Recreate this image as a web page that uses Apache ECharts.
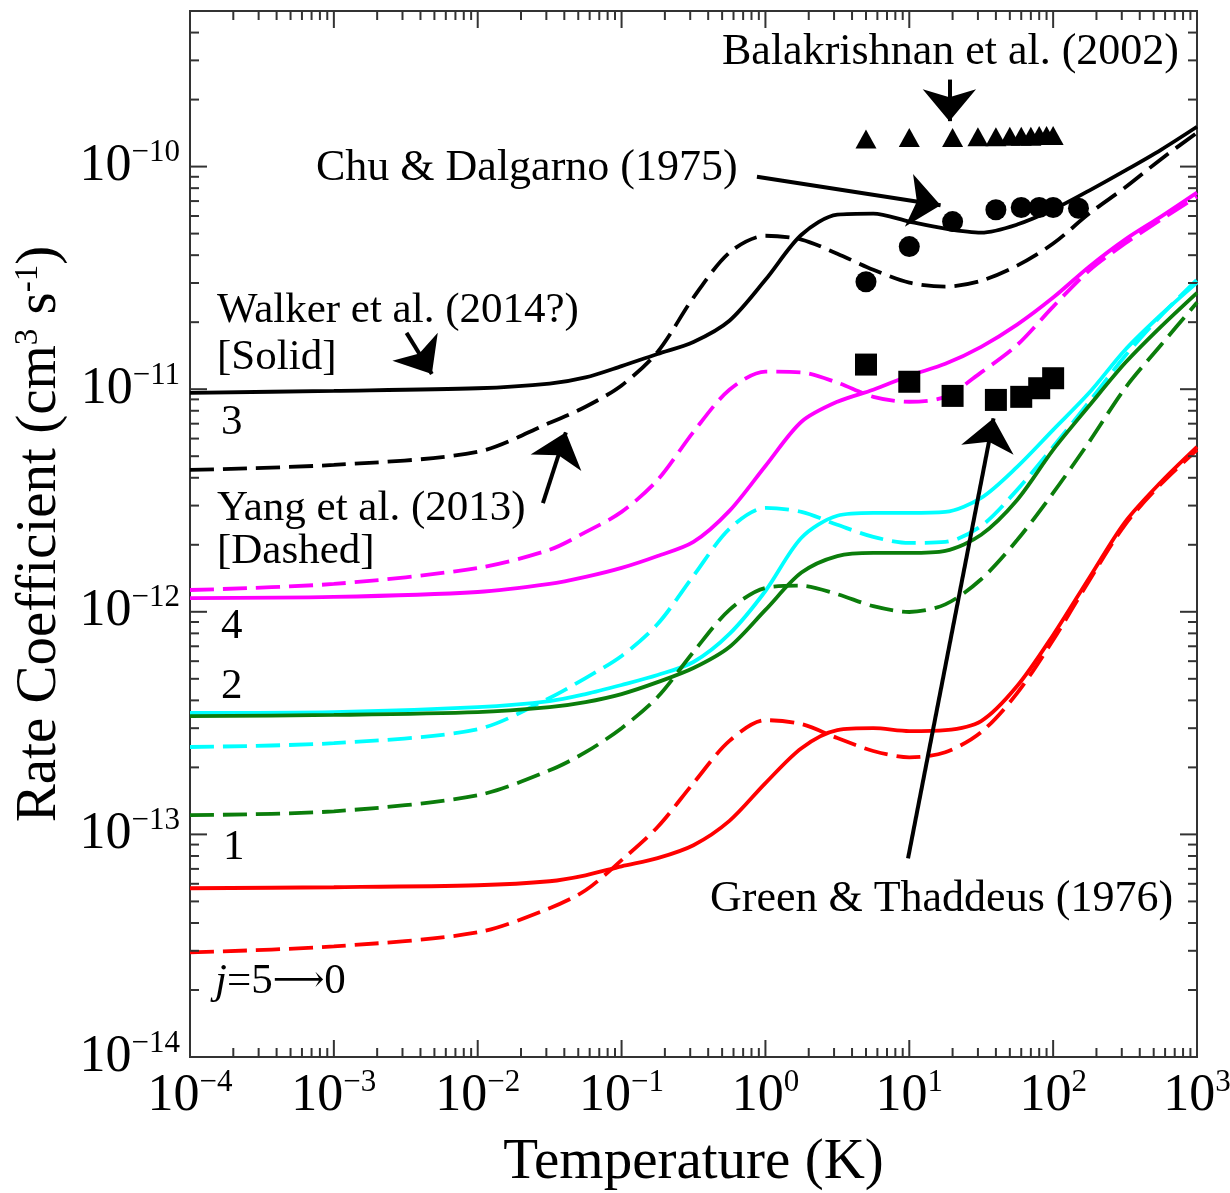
<!DOCTYPE html>
<html><head><meta charset="utf-8">
<script src="https://cdn.jsdelivr.net/npm/echarts@6/dist/echarts.min.js"></script>
<style>html,body{margin:0;padding:0;background:#fff}#c{width:1230px;height:1193px}</style>
</head><body><div id="c"></div>
<script>
// ---------------- data ----------------
const X_MIN = 1e-4, X_MAX = 1e3, Y_MIN = 1e-14, Y_MAX = 5e-10;
const xTickExponents = [-4, -3, -2, -1, 0, 1, 2, 3];
const yTickExponents = [-14, -13, -12, -11, -10];

// temperatures (K) at which the curves were read
const temperatureK = [1e-4, 1e-3, 1e-2, 0.0316, 0.0562, 0.1, 0.178, 0.316, 0.562, 1, 1.78, 3.16, 5.62, 10, 17.8, 31.6, 56.2, 100, 178, 316, 562, 1000];

// rate coefficients (cm^3 s^-1); solid = Walker et al., dashed = Yang et al.
const black_solid  = [9.63e-12, 9.83e-12, 1.01e-11, 1.06e-11, 1.13e-11, 1.27e-11, 1.44e-11, 1.63e-11, 2.03e-11, 3.10e-11, 4.94e-11, 6.08e-11, 6.15e-11, 5.66e-11, 5.26e-11, 5.05e-11, 5.49e-11, 6.41e-11, 7.80e-11, 9.59e-11, 1.19e-10, 1.51e-10];
const black_dashed = [4.34e-12, 4.57e-12, 5.23e-12, 7.06e-12, 8.34e-12, 1.04e-11, 1.47e-11, 2.58e-11, 4.11e-11, 4.89e-11, 4.70e-11, 4.06e-11, 3.44e-11, 3.01e-11, 2.89e-11, 3.07e-11, 3.59e-11, 4.51e-11, 6.15e-11, 8.05e-11, 1.08e-10, 1.42e-10];
const magenta_solid  = [1.153e-12, 1.166e-12, 1.227e-12, 1.334e-12, 1.434e-12, 1.574e-12, 1.78e-12, 2.06e-12, 2.84e-12, 4.52e-12, 7.14e-12, 8.78e-12, 9.94e-12, 1.15e-11, 1.30e-11, 1.55e-11, 1.95e-11, 2.58e-11, 3.55e-11, 4.70e-11, 5.96e-11, 7.64e-11];
const magenta_dashed = [1.253e-12, 1.334e-12, 1.574e-12, 1.90e-12, 2.28e-12, 2.81e-12, 3.91e-12, 6.43e-12, 9.94e-12, 1.20e-11, 1.19e-11, 1.07e-11, 9.24e-12, 8.78e-12, 9.24e-12, 1.19e-11, 1.58e-11, 2.35e-11, 3.41e-11, 4.51e-11, 5.78e-11, 7.33e-11];
const cyan_solid  = [3.51e-13, 3.54e-13, 3.73e-13, 3.97e-13, 4.27e-13, 4.69e-13, 5.20e-13, 5.95e-13, 7.95e-13, 1.24e-12, 2.15e-12, 2.70e-12, 2.78e-12, 2.78e-12, 2.81e-12, 3.25e-12, 4.48e-12, 6.57e-12, 9.63e-12, 1.50e-11, 2.16e-11, 3.01e-11];
const cyan_dashed = [2.47e-13, 2.57e-13, 2.97e-13, 4.10e-13, 5.04e-13, 6.33e-13, 8.81e-13, 1.45e-12, 2.36e-12, 2.93e-12, 2.81e-12, 2.46e-12, 2.17e-12, 2.04e-12, 2.06e-12, 2.43e-12, 3.53e-12, 5.51e-12, 8.78e-12, 1.41e-11, 2.14e-11, 3.10e-11];
const green_solid  = [3.40e-13, 3.44e-13, 3.54e-13, 3.73e-13, 3.93e-13, 4.27e-13, 4.83e-13, 5.59e-13, 6.95e-13, 1.02e-12, 1.50e-12, 1.78e-12, 1.84e-12, 1.84e-12, 1.88e-12, 2.22e-12, 3.18e-12, 5.34e-12, 8.42e-12, 1.31e-11, 1.91e-11, 2.71e-11];
const green_dashed = [1.22e-13, 1.27e-13, 1.50e-13, 1.94e-13, 2.34e-13, 3.00e-13, 4.14e-13, 6.60e-13, 1.02e-12, 1.28e-12, 1.31e-12, 1.20e-12, 1.06e-12, 9.98e-13, 1.08e-12, 1.40e-12, 2.10e-12, 3.42e-12, 5.80e-12, 1.01e-11, 1.58e-11, 2.45e-11];
const red_solid  = [5.73e-14, 5.79e-14, 5.91e-14, 6.16e-14, 6.55e-14, 7.19e-14, 7.82e-14, 8.94e-14, 1.15e-13, 1.70e-13, 2.44e-13, 2.94e-13, 3.00e-13, 2.91e-13, 2.94e-13, 3.23e-13, 4.64e-13, 7.87e-13, 1.42e-12, 2.53e-12, 3.83e-12, 5.51e-12];
const red_dashed = [2.95e-14, 3.14e-14, 3.63e-14, 4.66e-14, 5.61e-14, 7.66e-14, 1.08e-13, 1.70e-13, 2.63e-13, 3.26e-13, 3.13e-13, 2.71e-13, 2.37e-13, 2.22e-13, 2.34e-13, 2.88e-13, 4.31e-13, 7.47e-13, 1.38e-12, 2.46e-12, 3.75e-12, 5.34e-12];

// literature points [T (K), rate]
const balakrishnan2002 = [[5,1.33e-10],[10,1.35e-10],[20,1.35e-10],[30,1.36e-10],[40,1.36e-10],[50,1.37e-10],[60,1.37e-10],[70,1.37e-10],[80,1.38e-10],[90,1.38e-10],[100,1.38e-10]];
const chuDalgarno1975 = [[5,3.04e-11],[10,4.37e-11],[20,5.66e-11],[40,6.4e-11],[60,6.55e-11],[80,6.55e-11],[100,6.55e-11],[150,6.5e-11]];
const greenThaddeus1976 = [[5,1.29e-11],[10,1.08e-11],[20,9.33e-12],[40,8.95e-12],[60,9.24e-12],[80,1.01e-11],[100,1.12e-11]];

// annotation arrows [from, to] in data coordinates
const arrowBalakrishnan = [[19,2.46e-10],[19,1.60e-10]];
const arrowChu = [[0.873,9.0e-11],[16.5,6.7e-11]];
const arrowWalker = [[3.2e-3,1.79e-11],[4.8e-3,1.17e-11]];
const arrowYang = [[0.0284,3.08e-12],[0.041,6.4e-12]];
const arrowGreen = [[9.8,7.8e-14],[38.5,7.4e-12]];

// ---------------- chart ----------------
const FONT = "'Liberation Serif','Times New Roman',serif";
const AX = '#333';
const xMinorTicks = [], yMinorTicks = [];
xTickExponents.slice(0, -1).forEach(e => { for (let m = 2; m <= 9; m++) xMinorTicks.push(+(m + 'e' + e)); });
yTickExponents.forEach(e => { for (let m = 2; m <= 9; m++) { const v = +(m + 'e' + e); if (v < Y_MAX) yMinorTicks.push(v); } });
const xMajorTicks = xTickExponents.map(e => +('1e' + e));
const yMajorTicks = yTickExponents.map(e => +('1e' + e));

function powLabel(v) {
  const l = Math.log10(v), e = Math.round(l);
  if (Math.abs(l - e) > 1e-6) return '';
  return '{b|10}{s|' + (e < 0 ? '\u2212' + (-e) : e) + '}';
}
const labelRich = {
  b: { fontFamily: FONT, fontSize: 52, color: '#000', lineHeight: 58 },
  s: { fontFamily: FONT, fontSize: 31, color: '#000', verticalAlign: 'top', lineHeight: 30 }
};

function xTicks(len) {
  return function (params, api) {
    const cs = params.coordSys;
    const x = api.coord([api.value(0), Y_MIN])[0];
    const yb = cs.y + cs.height, yt = cs.y;
    return { type: 'group', children: [
      { type: 'line', shape: { x1: x, y1: yb, x2: x, y2: yb - len }, style: { stroke: AX, lineWidth: 2 } },
      { type: 'line', shape: { x1: x, y1: yt, x2: x, y2: yt + len }, style: { stroke: AX, lineWidth: 2 } }
    ] };
  };
}
function yTicks(len) {
  return function (params, api) {
    const cs = params.coordSys;
    const y = api.coord([X_MIN, api.value(1)])[1];
    const xl = cs.x, xr = cs.x + cs.width;
    return { type: 'group', children: [
      { type: 'line', shape: { x1: xl, y1: y, x2: xl + len, y2: y }, style: { stroke: AX, lineWidth: 2 } },
      { type: 'line', shape: { x1: xr, y1: y, x2: xr - len, y2: y }, style: { stroke: AX, lineWidth: 2 } }
    ] };
  };
}

const DASH = [24, 9];
function curve(name, values, color, dashed) {
  return { name, type: 'line', data: temperatureK.map((t, i) => [t, values[i]]), showSymbol: false, smooth: 0.3, z: 3,
    lineStyle: { color, width: 3.8, type: dashed ? DASH : 'solid' }, silent: true };
}

const arrowList = [arrowBalakrishnan, arrowChu, arrowWalker, arrowYang, arrowGreen];

const option = {
  animation: false,
  backgroundColor: '#fff',
  grid: { left: 190, right: 33, top: 11, bottom: 136, containLabel: false, outerBoundsMode: 'none',
    show: true, borderColor: AX, borderWidth: 2, backgroundColor: 'transparent' },
  xAxis: {
    type: 'log', logBase: 10, min: X_MIN, max: X_MAX, interval: 1,
    axisLine: { show: false }, axisTick: { show: false }, splitLine: { show: false }, minorTick: { show: false },
    axisLabel: { formatter: powLabel, rich: labelRich, margin: 10 },
    name: 'Temperature (K)', nameLocation: 'middle', nameGap: 78,
    nameTextStyle: { fontFamily: FONT, fontSize: 57, color: '#000' }
  },
  yAxis: {
    type: 'log', logBase: 10, min: Y_MIN, max: Y_MAX, interval: 1,
    axisLine: { show: false }, axisTick: { show: false }, splitLine: { show: false }, minorTick: { show: false },
    axisLabel: { formatter: powLabel, rich: labelRich, margin: 10, showMaxLabel: false },
    name: 'Rate Coefficient (cm{sup|3} s{sup|-1})', nameLocation: 'middle', nameGap: 117,
    nameTextStyle: { fontFamily: FONT, fontSize: 57, color: '#000',
      rich: { sup: { fontFamily: FONT, fontSize: 33, color: '#000', verticalAlign: 'top' } } }
  },
  series: [
    curve('Walker j3', black_solid, '#000', false),
    curve('Yang j3', black_dashed, '#000', true),
    curve('Walker j4', magenta_solid, '#ff00ff', false),
    curve('Yang j4', magenta_dashed, '#ff00ff', true),
    curve('Walker cyan', cyan_solid, '#00ffff', false),
    curve('Yang cyan', cyan_dashed, '#00ffff', true),
    curve('Walker green', green_solid, '#0b7d0b', false),
    curve('Yang green', green_dashed, '#0b7d0b', true),
    curve('Walker red', red_solid, '#ff0000', false),
    curve('Yang red', red_dashed, '#ff0000', true),
    { name: 'Balakrishnan et al. (2002)', type: 'scatter', data: balakrishnan2002, symbol: 'triangle', symbolSize: [21, 19], itemStyle: { color: '#000', opacity: 1 }, z: 5, silent: true },
    { name: 'Chu & Dalgarno (1975)', type: 'scatter', data: chuDalgarno1975, symbol: 'circle', symbolSize: 21, itemStyle: { color: '#000', opacity: 1 }, z: 5, silent: true },
    { name: 'Green & Thaddeus (1976)', type: 'scatter', data: greenThaddeus1976, symbol: 'rect', symbolSize: 22, itemStyle: { color: '#000', opacity: 1 }, z: 5, silent: true,
      markLine: { silent: true, animation: false, symbol: ['none', 'arrow'], symbolSize: [40, 32],
        lineStyle: { color: '#000', width: 4, type: 'solid', opacity: 1 }, label: { show: false }, emphasis: { disabled: true },
        itemStyle: { color: '#000', opacity: 1 },
        data: arrowList.map(a => [{ coord: a[0] }, { coord: a[1] }]) } },
    { type: 'custom', renderItem: xTicks(9), data: xMinorTicks.map(v => [v, Y_MIN]), clip: false, silent: true, z: 6 },
    { type: 'custom', renderItem: xTicks(17), data: xMajorTicks.map(v => [v, Y_MIN]), clip: false, silent: true, z: 6 },
    { type: 'custom', renderItem: yTicks(9), data: yMinorTicks.map(v => [X_MIN, v]), clip: false, silent: true, z: 6 },
    { type: 'custom', renderItem: yTicks(17), data: yMajorTicks.map(v => [X_MIN, v]), clip: false, silent: true, z: 6 }
  ],
  graphic: [
    { type: 'text', x: 722, y: 52, style: { text: 'Balakrishnan et al. (2002)', fontFamily: FONT, fontSize: 44, fill: '#000', verticalAlign: 'middle' } },
    { type: 'text', x: 316, y: 168, style: { text: 'Chu & Dalgarno (1975)', fontFamily: FONT, fontSize: 44, fill: '#000', verticalAlign: 'middle' } },
    { type: 'text', x: 217, y: 311, style: { text: 'Walker et al. (2014?)', fontFamily: FONT, fontSize: 43, fill: '#000', verticalAlign: 'middle' } },
    { type: 'text', x: 217, y: 358, style: { text: '[Solid]', fontFamily: FONT, fontSize: 43, fill: '#000', verticalAlign: 'middle' } },
    { type: 'text', x: 221, y: 423, style: { text: '3', fontFamily: FONT, fontSize: 43, fill: '#000', verticalAlign: 'middle' } },
    { type: 'text', x: 217, y: 509, style: { text: 'Yang et al. (2013)', fontFamily: FONT, fontSize: 43, fill: '#000', verticalAlign: 'middle' } },
    { type: 'text', x: 217, y: 552, style: { text: '[Dashed]', fontFamily: FONT, fontSize: 43, fill: '#000', verticalAlign: 'middle' } },
    { type: 'text', x: 221, y: 627, style: { text: '4', fontFamily: FONT, fontSize: 43, fill: '#000', verticalAlign: 'middle' } },
    { type: 'text', x: 221, y: 687, style: { text: '2', fontFamily: FONT, fontSize: 43, fill: '#000', verticalAlign: 'middle' } },
    { type: 'text', x: 223, y: 848, style: { text: '1', fontFamily: FONT, fontSize: 43, fill: '#000', verticalAlign: 'middle' } },
    { type: 'text', x: 215, y: 982, style: { text: '{i|j}=5{a|\u27F6}0', fontFamily: FONT, fontSize: 43, fill: '#000', verticalAlign: 'middle',
      rich: { i: { fontFamily: FONT, fontSize: 43, fontStyle: 'italic', color: '#000' },
              a: { fontFamily: "'DejaVu Serif','DejaVu Sans',sans-serif", fontSize: 36, color: '#000' } } } },
    { type: 'text', x: 710, y: 899, style: { text: 'Green & Thaddeus (1976)', fontFamily: FONT, fontSize: 44, fill: '#000', verticalAlign: 'middle' } }
  ]
};
const chart = echarts.init(document.getElementById('c'), null, { renderer: 'canvas' });
chart.setOption(option);
</script></body></html>
